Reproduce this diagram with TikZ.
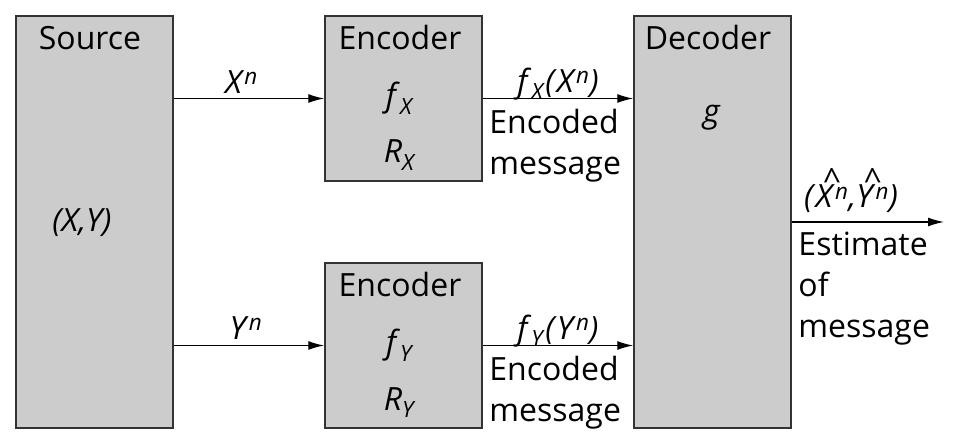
\documentclass[tikz,border=0pt]{standalone}
\usepackage{fontspec}
\setmainfont{Open Sans}
\usetikzlibrary{arrows.meta}
\definecolor{boxgray}{HTML}{CCCCCC}
\definecolor{edge}{HTML}{333333}
\newcommand{\itpow}[2]{\textit{#1}\textsuperscript{\textit{#2}}}
\newcommand{\itsub}[2]{\textit{#1}\textsubscript{\textit{#2}}}
% caret set above a piece of text
\newcommand{\capped}[1]{\setbox0\hbox{#1}%
  \rlap{\hbox to \wd0{\hss\raisebox{0.52em}{\textasciicircum}\hss}}\box0}

\begin{document}
\begin{tikzpicture}[
  x=1bp,y=-1bp,
  font=\fontsize{32bp}{41bp}\selectfont,
  flow/.style={-{Latex[length=16bp,width=9bp]},line width=1.4bp,draw=black},
  block/.style={draw=edge,fill=boxgray,line width=1.5bp,
    minimum width=157bp,inner sep=0pt},
  txt/.style={anchor=base,inner sep=0pt},
  over/.style={anchor=base,inner sep=0pt},
  under/.style={anchor=north west,align=left,inner sep=0pt,xshift=6bp}
]
\useasboundingbox (0,0) rectangle (960,445);

\node[block,minimum height=412bp] (source) at (94.5,222) {};
\node[txt] (srcname) at (90,50) {Source};
\node[txt] (srcvars) at (82,232) {\textit{(X,Y)}};

\node[block,minimum height=165bp] (encx) at (403.5,98.5) {};
\node[txt] (encxname) at (400,50) {Encoder};
\node[txt] (encxf) at (400,107) {\itsub{f}{X}};
\node[txt] (encxr) at (400,163) {\itsub{R}{X}};

\node[block,minimum height=165bp] (ency) at (403.5,345.5) {};
\node[txt] (encyname) at (400,297) {Encoder};
\node[txt] (encyf) at (400,354) {\itsub{f}{Y}};
\node[txt] (encyr) at (400,410) {\itsub{R}{Y}};

\node[block,minimum height=412bp] (dec) at (712.5,222) {};
\node[txt] (decname) at (708,50) {Decoder};
\node[txt] (decg) at (712,123) {\textit{g}};

\coordinate (out) at (944,222);

\draw[flow] (source.east |- encx) --
  node[over,pos=0.45,yshift=5bp] {\itpow{X}{n}} (encx.west);
\draw[flow] (source.east |- ency) --
  node[over,pos=0.48,yshift=6bp] {\itpow{Y}{n}} (ency.west);
\draw[flow] (encx.east) --
  node[over,midway,yshift=6bp] {\itsub{f}{X}\textit{(}\itpow{X}{n}\textit{)}}
  node[under,pos=0,yshift=-10bp] {Encoded\\message} (encx.east -| dec.west);
\draw[flow] (ency.east) --
  node[over,midway,yshift=6bp] {\itsub{f}{Y}\textit{(}\itpow{Y}{n}\textit{)}}
  node[under,pos=0,yshift=-10bp] {Encoded\\message} (ency.east -| dec.west);
\draw[flow] (dec.east) --
  node[over,pos=0.39,yshift=14bp] {\textit{(}\capped{\itpow{X}{n}}\textit{,}\capped{\itpow{Y}{n}}\textit{)}}
  node[under,pos=0,yshift=-9bp] {Estimate\\of\\message} (out);
\end{tikzpicture}
\end{document}
